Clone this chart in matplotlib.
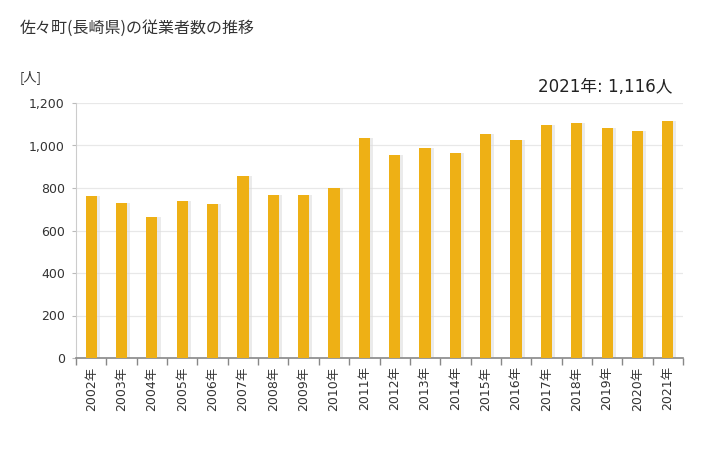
import matplotlib
matplotlib.use("Agg")
import matplotlib.pyplot as plt
from matplotlib.ticker import FuncFormatter

plt.rcParams['font.family'] = ['DejaVu Sans', 'Noto Sans CJK JP']

years = ["2002年", "2003年", "2004年", "2005年", "2006年", "2007年", "2008年", "2009年", "2010年", "2011年",
         "2012年", "2013年", "2014年", "2015年", "2016年", "2017年", "2018年", "2019年", "2020年", "2021年"]
values = [764, 731, 665, 740, 726, 858, 769, 769, 802, 1037,
          957, 990, 966, 1053, 1027, 1098, 1107, 1084, 1070, 1116]
yticks = [0, 200, 400, 600, 800, 1000, 1200]

title = "佐々町(長崎県)の従業者数の推移"
unit = "[人]"
note = "2021年: 1,116人"

cjk = ['Noto Sans CJK JP', 'DejaVu Sans']

fig = plt.figure(figsize=(7.28, 4.5), dpi=100)
ax = fig.add_axes([76/728, 1-358/450, (683-76)/728, (358-103)/450])

x = list(range(len(values)))
# shadow
ax.bar([i + 0.05 for i in x], values, width=0.47, color='#dcdcdc', alpha=0.55, zorder=2)
ax.bar(x, values, width=0.37, color='#EEB015', zorder=3)

ax.set_xlim(-0.5, len(values) - 0.5)
ax.set_ylim(0, 1200)
ax.set_yticks(yticks)
ax.yaxis.set_major_formatter(FuncFormatter(lambda v, p: f"{int(v):,}"))
ax.grid(axis='y', color='#e8e8e8', linewidth=0.9, zorder=0)
ax.set_axisbelow(True)

ax.set_xticks(x)
ax.set_xticklabels(years, rotation=90, fontsize=9, color='#333333')
ax.set_xticks([i - 0.5 for i in range(len(values) + 1)], minor=True)
ax.tick_params(axis='x', which='major', length=0, pad=6)
ax.tick_params(axis='x', which='minor', length=5, color='#888888', width=1)
ax.tick_params(axis='y', length=3, color='#bbbbbb', labelsize=9, labelcolor='#333333', pad=5)

for s in ['top', 'right']:
    ax.spines[s].set_visible(False)
ax.spines['left'].set_color('#cccccc')
ax.spines['bottom'].set_color('#888888')
ax.spines['bottom'].set_linewidth(1.2)

fig.text(20/728, 1-28/450, title, fontsize=11.5, color='#333333', va='center', ha='left', family=cjk)
fig.text(20/728, 1-77/450, unit, fontsize=9.5, color='#333333', va='center', ha='left', family=cjk)
fig.text(672/728, 1-87/450, note, fontsize=12, color='#222222', va='center', ha='right')

fig.savefig("out.png", dpi=100)
